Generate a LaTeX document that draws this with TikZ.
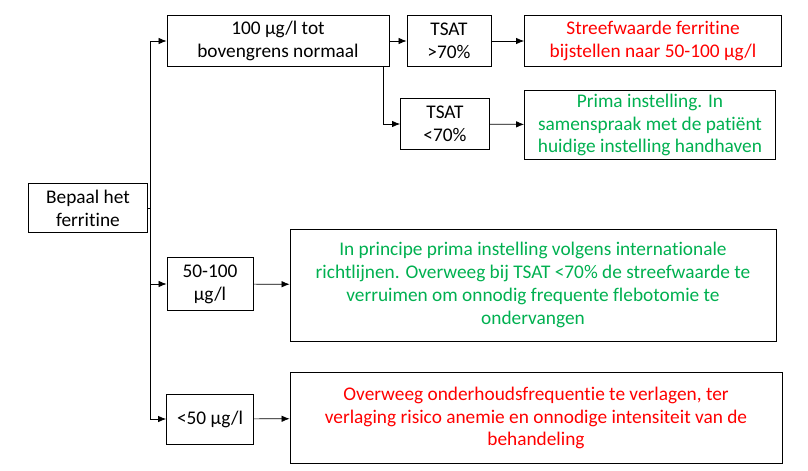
\documentclass[tikz,border=0pt]{standalone}
\usepackage{fontspec}
\setmainfont{Carlito}[Ligatures=NoCommon]
\usepackage{xcolor}
\usetikzlibrary{arrows.meta}
\definecolor{advred}{RGB}{255,0,0}
\definecolor{advgreen}{RGB}{0,176,80}
\begin{document}
\begin{tikzpicture}[x=0.02cm,y=-0.02cm,-{Latex[length=1.6mm,width=1.3mm]},thin,
  font=\fontsize{11}{13}\selectfont]
   \useasboundingbox (0,0) rectangle (808,470);
   \tikzstyle{box}=[draw, rectangle, inner sep=1pt, align=center, line width=0.5pt]
   \node[box, minimum width=119*0.02cm, minimum height=49*0.02cm] (start) at (88,208) {Bepaal het\\ferritine};
   \node[box, minimum width=222*0.02cm, minimum height=51*0.02cm] (high) at (278,41) {100 µg/l tot\\bovengrens normaal};
   \node[box, minimum width=84*0.02cm, minimum height=51*0.02cm] (tsathi) at (449,41) {TSAT\\>70\%};
   \node[box, minimum width=257*0.02cm, minimum height=51*0.02cm, text=advred] (adjust) at (653,41) {Streefwaarde ferritine\\bijstellen naar 50-100 µg/l};
   \node[box, minimum width=89*0.02cm, minimum height=51*0.02cm] (tsatlo) at (445,124) {TSAT\\<70\%};
   \node[box, minimum width=251*0.02cm, minimum height=69*0.02cm, text=advgreen] (keep) at (650,125) {Prima instelling. In\\samenspraak met de patiënt\\huidige instelling handhaven};
   \node[box, minimum width=86*0.02cm, minimum height=53*0.02cm] (mid) at (210,284) {50-100\\µg/l};
   \node[box, minimum width=486*0.02cm, minimum height=112*0.02cm, text=advgreen] (principle) at (533,285) {In principe prima instelling volgens internationale\\richtlijnen. Overweeg bij TSAT <70\% de streefwaarde te\\verruimen om onnodig frequente flebotomie te\\ondervangen};
   \node[box, minimum width=87*0.02cm, minimum height=50*0.02cm] (low) at (210,419) {<50 µg/l};
   \node[box, minimum width=492*0.02cm, minimum height=91*0.02cm, text=advred] (lower) at (536,418) {Overweeg onderhoudsfrequentie te verlagen, ter\\verlaging risico anemie en onnodige intensiteit van de\\behandeling};
   \coordinate (trunk) at (150,208);
   \draw[-] (start) -- (trunk);
   \draw (trunk) |- (high);
   \draw (trunk) |- (mid);
   \draw (trunk) |- (low);
   \draw (high) -- (tsathi);
   \draw (tsathi) -- (adjust);
   \draw (high.south -| 383,0) |- (tsatlo);
   \draw (tsatlo) -- (keep);
   \draw (mid) -- (principle);
   \draw (low) -- (lower);
\end{tikzpicture}
\end{document}
